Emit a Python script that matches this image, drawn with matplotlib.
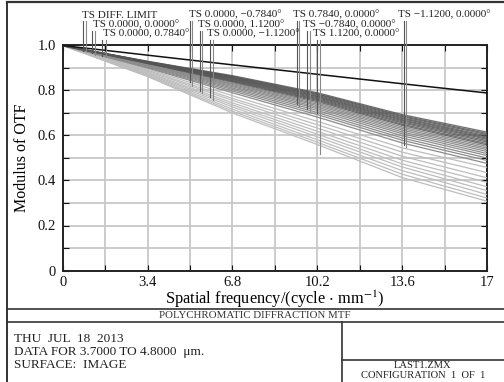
import numpy as np
import matplotlib
matplotlib.use("Agg")
from matplotlib import pyplot as plt
from matplotlib.ticker import FixedLocator, FixedFormatter

plt.rcParams['font.family'] = ['Liberation Serif', 'DejaVu Serif']
plt.rcParams['mathtext.fontset'] = 'stix'

# ---- data ----
freq = [0, 3.4, 6.8, 10.2, 13.6, 17]
diff_limit = [1.0, 0.957, 0.914, 0.872, 0.830, 0.789]

dark_curves = [
    [1.0, 0.930, 0.866, 0.790, 0.693, 0.615],
    [1.0, 0.929, 0.863, 0.786, 0.688, 0.609],
    [1.0, 0.928, 0.861, 0.783, 0.684, 0.604],
    [1.0, 0.927, 0.858, 0.779, 0.679, 0.598],
    [1.0, 0.926, 0.856, 0.775, 0.675, 0.593],
    [1.0, 0.925, 0.853, 0.772, 0.670, 0.588],
    [1.0, 0.924, 0.851, 0.768, 0.666, 0.583],
    [1.0, 0.923, 0.848, 0.764, 0.661, 0.577],
    [1.0, 0.922, 0.845, 0.760, 0.656, 0.571],
    [1.0, 0.921, 0.842, 0.756, 0.650, 0.564],
    [1.0, 0.920, 0.839, 0.751, 0.645, 0.558],
]
mid_curves = [
    [1.0, 0.919, 0.835, 0.745, 0.638, 0.551],
    [1.0, 0.917, 0.831, 0.739, 0.631, 0.544],
    [1.0, 0.915, 0.827, 0.733, 0.624, 0.537],
    [1.0, 0.913, 0.822, 0.726, 0.616, 0.529],
    [1.0, 0.911, 0.817, 0.719, 0.608, 0.520],
    [1.0, 0.909, 0.811, 0.711, 0.599, 0.511],
    [1.0, 0.906, 0.805, 0.702, 0.589, 0.500],
    [1.0, 0.903, 0.798, 0.693, 0.579, 0.489],
    [1.0, 0.900, 0.790, 0.682, 0.567, 0.476],
]
light_curves = [
    [1.0, 0.895, 0.777, 0.663, 0.545, 0.458],
    [1.0, 0.890, 0.765, 0.648, 0.526, 0.435],
    [1.0, 0.886, 0.756, 0.633, 0.508, 0.412],
    [1.0, 0.881, 0.745, 0.619, 0.490, 0.392],
    [1.0, 0.877, 0.736, 0.606, 0.474, 0.372],
    [1.0, 0.873, 0.727, 0.594, 0.460, 0.355],
    [1.0, 0.869, 0.717, 0.581, 0.444, 0.338],
    [1.0, 0.865, 0.708, 0.570, 0.428, 0.322],
    [1.0, 0.862, 0.700, 0.560, 0.413, 0.308],
]

xticks = [0, 3.4, 6.8, 10.2, 13.6, 17]
xtick_labels = ['0', '3.4', '6.8', '10.2', '13.6', '17']
yticks = [0, 0.2, 0.4, 0.6, 0.8, 1.0]
ytick_labels = ['0', '0.2', '0.4', '0.6', '0.8', '1.0']

field_labels = [
    'TS DIFF. LIMIT', 'TS 0.0000, 0.0000°', 'TS 0.0000, 0.7840°',
    'TS 0.0000, \u22120.7840°', 'TS 0.0000, 1.1200°', 'TS 0.0000, \u22121.1200°',
    'TS 0.7840, 0.0000°', 'TS \u22120.7840, 0.0000°', 'TS 1.1200, 0.0000°',
    'TS \u22121.1200, 0.0000°',
]
# frequency of the T and S leader lines of each label, and MTF where they stop
leader_freq = [
    (0.83, 0.92), (1.19, 1.28), (1.58, 1.72),
    (5.10, 5.20), (5.50, 5.60), (5.90, 6.01),
    (9.38, 9.47), (9.78, 9.89), (10.18, 10.29),
    (13.66, 13.75),
]
leader_mtf = [
    (0.975, 0.975), (0.965, 0.96), (0.955, 0.95),
    (0.84, 0.82), (0.80, 0.79), (0.77, 0.76),
    (0.74, 0.73), (0.72, 0.71), (0.70, 0.52),
    (0.56, 0.55),
]

W, H = 504, 382
fig = plt.figure(figsize=(W / 100, H / 100), dpi=100)

left, right, top, bottom = 62.7, 487.0, 45.5, 270.5
ax = fig.add_axes([left / W, (H - bottom) / H, (right - left) / W, (bottom - top) / H])

# overlay in pixel coordinates for the report frame, drawn above the plot
frame = fig.add_axes([0, 0, 1, 1], zorder=10)
frame.set_xlim(0, W)
frame.set_ylim(H, 0)
frame.axis('off')

for c in light_curves:
    ax.plot(freq, c, color='#bdbdbd', lw=0.9, zorder=3)
for c in mid_curves:
    ax.plot(freq, c, color='#8c8c8c', lw=0.9, zorder=4)
for c in dark_curves:
    ax.plot(freq, c, color='#555555', lw=0.9, alpha=0.85, zorder=5)
ax.plot(freq, diff_limit, color='#111111', lw=1.1, zorder=6)

ax.set_xlim(0, 17)
ax.set_ylim(0, 1.0)
ax.xaxis.set_major_locator(FixedLocator(xticks))
ax.xaxis.set_major_formatter(FixedFormatter(xtick_labels))
ax.xaxis.set_minor_locator(FixedLocator(np.arange(0, 17.01, 1.7)))
ax.yaxis.set_major_locator(FixedLocator(yticks))
ax.yaxis.set_major_formatter(FixedFormatter(ytick_labels))
ax.yaxis.set_minor_locator(FixedLocator(np.arange(0, 1.01, 0.1)))
ax.grid(True, which='both', color='#c8c8c8', lw=1.3, zorder=1)
ax.set_axisbelow(True)
ax.tick_params(which='both', direction='in', top=True, right=True,
               length=4, width=0.8, labelsize=10.5, colors='#111111')
ax.tick_params(axis='x', pad=4)
ax.tick_params(axis='y', pad=5)
for s in ax.spines.values():
    s.set_linewidth(1.4)
    s.set_color('#222222')
ax.set_xlabel(r'Spatial frequency/(cycle $\cdot$ mm$^{-1}$)', fontsize=11.8, labelpad=0)
ax.set_ylabel('Modulus of OTF', fontsize=11.5, labelpad=5)

# field labels above the plot with their leader lines
label_xy = [
    (81.7, 15), (93.3, 25), (102.7, 34),
    (189, 15), (198, 25), (206.7, 34),
    (292.7, 15), (303, 25), (313.3, 34),
    (398, 15),
]
for i, txt in enumerate(field_labels):
    lx, ly = label_xy[i]
    frame.text(lx, ly, txt, fontsize=8, va='center', ha='left', color='#222222')
    for j in range(2):
        fx = left + leader_freq[i][j] * (right - left) / 17
        fy = bottom - leader_mtf[i][j] * (bottom - top)
        col = '#555555' if j == 0 else '#888888'
        frame.plot([fx, fx], [ly + 6, fy], color=col, lw=0.8)

# report frame
lc = '#333333'
frame.plot([7, W], [1.5, 1.5], color=lc, lw=1.6)
frame.plot([7, 7], [1.5, H], color=lc, lw=1.4)
frame.plot([7, W], [308.5, 308.5], color=lc, lw=1.2)
frame.plot([7, W], [321.5, 321.5], color=lc, lw=1.2)
frame.plot([342, 342], [321.5, H], color=lc, lw=1.2)
frame.plot([342, W], [360, 360], color=lc, lw=1.2)

frame.text(255, 315, 'POLYCHROMATIC DIFFRACTION MTF', fontsize=7.8,
           ha='center', va='center', color='#333333')
frame.text(14, 339, 'THU  JUL  18  2013', fontsize=9.5, va='center', color='#222222')
frame.text(14, 352, 'DATA FOR 3.7000 TO 4.8000  \u03bcm.', fontsize=9.5, va='center', color='#222222')
frame.text(14, 365, 'SURFACE:  IMAGE', fontsize=9.5, va='center', color='#222222')
frame.text(423, 365.5, 'LAST1.ZMX', fontsize=7.6, ha='center', va='center', color='#222222')
frame.text(423, 376, 'CONFIGURATION  1  OF  1', fontsize=7.6, ha='center', va='center', color='#222222')

fig.savefig('out.png', dpi=100)
